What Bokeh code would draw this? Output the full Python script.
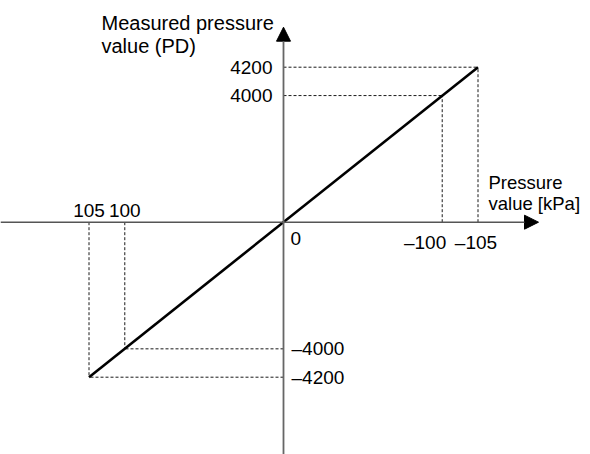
import numpy as np
from bokeh.plotting import figure
from bokeh.models import Range1d, Arrow, NormalHead, Label
from bokeh.core.properties import value
from bokeh.embed import file_html
from bokeh.resources import INLINE

# ---- data ----
pressure_kpa = [105, 100, -100, -105]          # x values of the marked points
measured_pd = [-4200, -4000, 4000, 4200]       # corresponding measured values
x_title = ["Pressure", "value [kPa]"]
y_title = ["Measured pressure", "value (PD)"]

# ---- schematic (broken) scale: the drawing is not to scale ----
def sx(v):
    v = np.asarray(v, dtype=float)
    return np.sign(v) * np.interp(np.abs(v), [0, 100, 105], [0, 0.816, 1.0])

def sy(v):
    v = np.asarray(v, dtype=float)
    return np.sign(v) * np.interp(np.abs(v), [0, 4000, 4200], [0, 0.817, 1.0])

def lab(v):
    return ("\u2013" + str(abs(v))) if v < 0 else str(v)

W, H = 590, 454
XU, YU = 194.5, 155.0     # px per schematic unit
OX, OY = 283.0, 221.7     # origin position inside the canvas (from left / from top)

FONT = "Liberation Sans"
FS = "19px"

p = figure(width=W, height=H, output_backend="svg", toolbar_location=None,
           x_range=Range1d(OX / XU, -(W - OX) / XU),
           y_range=Range1d(-(H - OY) / YU, OY / YU),
           min_border=0, outline_line_color=None)
p.axis.visible = False
p.grid.visible = False
p.background_fill_color = "white"
p.border_fill_color = "white"

px = sx(pressure_kpa)
py = sy(measured_pd)
zeros = np.zeros(len(px))

# vertical guides from the x axis to the points
p.segment(x0=px, y0=zeros, x1=px, y1=py,
          line_color="#1a1a1a", line_width=1, line_dash="3 2")
# horizontal guides from the y axis to the points
p.segment(x0=zeros, y0=py, x1=px, y1=py,
          line_color="#1a1a1a", line_width=1, line_dash="3 2")

# axes with arrowheads
p.add_layout(Arrow(end=NormalHead(size=14, fill_color="black", line_color="black"),
                   x_start=OX / XU, y_start=0, x_end=-(538 - OX) / XU, y_end=0,
                   line_color="#555555", line_width=1.5))
p.add_layout(Arrow(end=NormalHead(size=14, fill_color="black", line_color="black"),
                   x_start=0, y_start=-(H - OY) / YU, x_end=0, y_end=(OY - 26.7) / YU,
                   line_color="#666666", line_width=1.8))

# characteristic line
p.line(x=sx([pressure_kpa[0], pressure_kpa[-1]]), y=sy([measured_pd[0], measured_pd[-1]]),
       line_color="black", line_width=2.6)

# x tick labels
pos_p = [v for v in pressure_kpa if v > 0]
p.text(x=sx(pos_p), y=[0.0] * len(pos_p), text=[lab(v) for v in pos_p],
       text_align="center", text_baseline="bottom", y_offset=-5,
       text_font=value(FONT), text_font_size=FS, text_color="black")
neg = [v for v in pressure_kpa if v < 0]
p.text(x=sx([neg[0]]), y=[0.0], text=[lab(neg[0])], text_align="right", text_baseline="top",
       x_offset=4, y_offset=10, text_font=value(FONT), text_font_size=FS, text_color="black")
p.text(x=sx([neg[1]]), y=[0.0], text=[lab(neg[1])], text_align="center", text_baseline="top",
       x_offset=-2, y_offset=10, text_font=value(FONT), text_font_size=FS, text_color="black")
p.text(x=[0.0], y=[0.0], text=["0"], text_align="left", text_baseline="top",
       x_offset=7, y_offset=10, text_font=value(FONT), text_font_size=FS, text_color="black")

# y tick labels
pos_m = [v for v in measured_pd if v > 0]
neg_m = [v for v in measured_pd if v < 0]
p.text(x=[0.0] * len(pos_m), y=sy(pos_m), text=[lab(v) for v in pos_m], text_align="right",
       text_baseline="middle", x_offset=-11, y_offset=0,
       text_font=value(FONT), text_font_size=FS, text_color="black")
p.text(x=[0.0] * len(neg_m), y=sy(neg_m), text=[lab(v) for v in neg_m], text_align="left",
       text_baseline="middle", x_offset=8, y_offset=0,
       text_font=value(FONT), text_font_size=FS, text_color="black")

# axis titles
for i, t in enumerate(y_title):
    p.add_layout(Label(x=101, y=H - 33 - i * 23.5, x_units="screen", y_units="screen",
                       text=t, text_align="left", text_baseline="bottom",
                       text_font=FONT, text_font_size="20px", text_color="black"))
for i, t in enumerate(x_title):
    p.add_layout(Label(x=488, y=H - 192 - i * 21, x_units="screen", y_units="screen",
                       text=t, text_align="left", text_baseline="bottom",
                       text_font=FONT, text_font_size="18.5px", text_color="black"))

open("out.html", "w").write(file_html(p, INLINE))
